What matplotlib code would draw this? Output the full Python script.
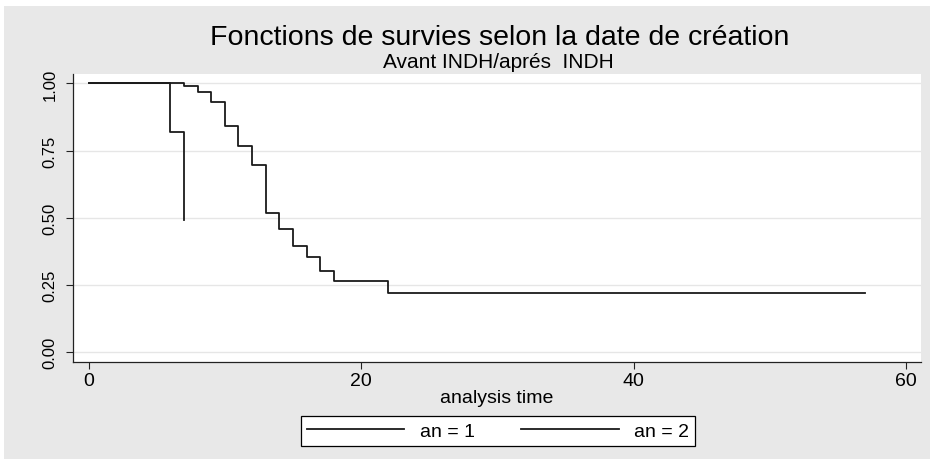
import matplotlib
matplotlib.use('Agg')
import matplotlib.pyplot as plt
from matplotlib.patches import Rectangle

plt.rcParams['font.family'] = ['Liberation Sans', 'DejaVu Sans']

# survival estimates
time1 = [0, 7, 8, 9, 10, 11, 12, 13, 14, 15, 16, 17, 18, 22, 57]
surv1 = [1.0, 0.99, 0.968, 0.93, 0.841, 0.767, 0.696, 0.516, 0.457, 0.395,
         0.354, 0.301, 0.263, 0.22, 0.22]
time2 = [0, 6, 7]
surv2 = [1.0, 0.82, 0.49]
labels = ['an = 1', 'an = 2']
xticks = [0, 20, 40, 60]
yticks = [0.0, 0.25, 0.5, 0.75, 1.0]

bg = '#e8e8e8'
fig = plt.figure(figsize=(9.33, 4.6), dpi=100, facecolor='white')
fig.patches.append(Rectangle((4 / 933, 0), 926 / 933, 453 / 460,
                             transform=fig.transFigure, facecolor=bg,
                             edgecolor='none', zorder=-10))

ax = fig.add_axes([73 / 933, 97 / 460, (921 - 73) / 933, (363 - 75) / 460])
ax.set_facecolor('white')

ax.step(time1, surv1, where='post', color='#1a1a1a', lw=1.3, label=labels[0])
ax.step(time2, surv2, where='post', color='#1a1a1a', lw=1.3, label=labels[1])

ax.set_xlim(-1.14, 61.1)
ax.set_ylim(-0.037, 1.035)
ax.set_xticks(xticks)
ax.set_yticks(yticks)
ax.set_yticklabels(['%.2f' % v for v in yticks], rotation=90, va='center')
ax.tick_params(axis='both', length=5, width=0.8,
               color='#222222', labelcolor='black')
ax.tick_params(axis='x', labelsize=14, pad=2)
ax.tick_params(axis='y', labelsize=12, pad=6)
ax.grid(axis='y', color='#e6e6e6', lw=1.0)
ax.set_axisbelow(True)
for side in ['top', 'right']:
    ax.spines[side].set_visible(False)
for side in ['left', 'bottom']:
    ax.spines[side].set_color('#222222')
    ax.spines[side].set_linewidth(0.9)

ax.set_xlabel('analysis time', fontsize=14, labelpad=0)

fig.text(500 / 933, 1 - 38 / 460, 'Fonctions de survies selon la date de création',
         ha='center', va='center', fontsize=20.5)
fig.text(498 / 933, 1 - 62 / 460, 'Avant INDH/aprés  INDH',
         ha='center', va='center', fontsize=15)

leg = fig.legend(loc='center', bbox_to_anchor=(498 / 933, 28 / 460), ncol=2,
                 fontsize=14, frameon=True, fancybox=False, handlelength=5.0,
                 handletextpad=0.8, columnspacing=2.4, borderpad=0.3)
leg.get_frame().set_edgecolor('black')
leg.get_frame().set_linewidth(0.9)
leg.get_frame().set_facecolor('white')
leg.get_frame().set_alpha(1)

fig.savefig('out.png', dpi=100, facecolor=fig.get_facecolor())
